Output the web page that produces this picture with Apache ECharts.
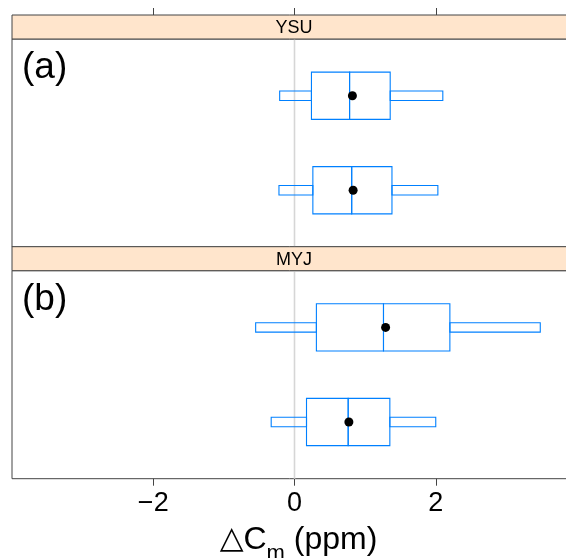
<!DOCTYPE html>
<html>
<head>
<meta charset="utf-8">
<script src="https://cdn.jsdelivr.net/npm/echarts@6/dist/echarts.min.js"></script>
<style>html,body{margin:0;padding:0;background:#fff;}#c{width:566px;height:558px;}</style>
</head>
<body>
<div id="c"></div>
<script>
// ---- data ----
var panels = ["YSU", "MYJ"];
var panelTags = ["(a)", "(b)"];
var rows = [1, 2];
// [lower whisker, Q1, median, Q3, upper whisker]
var ysuStats = [[-0.21, 0.24, 0.78, 1.355, 2.10], [-0.22, 0.26, 0.81, 1.38, 2.03]];
var ysuMeans = [0.82, 0.83];
var myjStats = [[-0.55, 0.31, 1.26, 2.20, 3.48], [-0.33, 0.17, 0.76, 1.35, 2.00]];
var myjMeans = [1.29, 0.77];
var xTicks = [-2, 0, 2];

var statsByPanel = [ysuStats, myjStats];
var meansByPanel = [ysuMeans, myjMeans];

var BLUE = '#0080ff';
var FONT = 'Liberation Sans, Arial, Helvetica, sans-serif';

function renderBox(params, api) {
  var y = api.value(0);
  var lo = api.value(1), q1 = api.value(2), med = api.value(3), q3 = api.value(4), hi = api.value(5);
  var hBox = api.size([0, 0.5])[1];
  var hW = api.size([0, 0.1])[1];
  var pLo = api.coord([lo, y]), pQ1 = api.coord([q1, y]), pMed = api.coord([med, y]);
  var pQ3 = api.coord([q3, y]), pHi = api.coord([hi, y]);
  var cy = pQ1[1];
  var st = {fill: 'none', stroke: BLUE, lineWidth: 1.1};
  return {
    type: 'group',
    children: [
      {type: 'rect', shape: {x: pLo[0], y: cy - hW / 2, width: pQ1[0] - pLo[0], height: hW}, style: st},
      {type: 'rect', shape: {x: pQ3[0], y: cy - hW / 2, width: pHi[0] - pQ3[0], height: hW}, style: st},
      {type: 'rect', shape: {x: pQ1[0], y: cy - hBox / 2, width: pMed[0] - pQ1[0], height: hBox}, style: st},
      {type: 'rect', shape: {x: pMed[0], y: cy - hBox / 2, width: pQ3[0] - pMed[0], height: hBox}, style: st}
    ]
  };
}

var gridTops = [39, 270.7];
var gridH = 208;
var gridLeft = 12, gridW = 565;

var grids = [], xAxes = [], yAxes = [], series = [], graphics = [];
panels.forEach(function (name, i) {
  grids.push({left: gridLeft, top: gridTops[i], width: gridW, height: gridH,
    outerBoundsMode: 'none', containLabel: false,
    show: true, borderColor: '#444', borderWidth: 1, backgroundColor: 'transparent'});
  var isBottom = (i === panels.length - 1);
  xAxes.push({
    gridIndex: i, type: 'value', min: -4, max: 4, interval: 2,
    position: isBottom ? 'bottom' : 'top',
    offset: isBottom ? 0 : 24,
    axisLine: {show: false},
    splitLine: {show: false},
    axisTick: {show: true, inside: false, length: 7, customValues: xTicks, lineStyle: {color: '#444', width: 1}},
    axisLabel: {show: isBottom, customValues: xTicks, fontSize: 27, color: '#000', fontFamily: FONT, margin: 11,
      formatter: function (v) { return v < 0 ? '\u2212' + Math.abs(v) : String(v); }},
    name: isBottom ? '{d|\u25B3}C{s|m} (ppm)' : '',
    nameLocation: 'middle', nameGap: 45,
    nameTextStyle: {fontSize: 32, color: '#000', fontFamily: FONT, padding: [0, 0, 0, 8],
      rich: {d: {fontSize: 31, fontFamily: 'DejaVu Sans', color: '#000'},
             s: {fontSize: 22, color: '#000', fontFamily: FONT, verticalAlign: 'bottom', padding: [0, 0, -9, 0]}}}
  });
  yAxes.push({gridIndex: i, type: 'value', min: 0.4, max: 2.6, inverse: true,
    axisLine: {show: false}, axisTick: {show: false}, axisLabel: {show: false}, splitLine: {show: false}});

  // zero reference line
  series.push({type: 'line', xAxisIndex: i, yAxisIndex: i, data: [[0, 0.4], [0, 2.6]],
    symbol: 'none', silent: true, lineStyle: {color: '#d6d6d6', width: 1.6}, z: 1});

  var st = statsByPanel[i];
  series.push({type: 'custom', xAxisIndex: i, yAxisIndex: i, renderItem: renderBox, z: 2,
    itemStyle: {color: BLUE},
    data: rows.map(function (r, k) { return [r].concat(st[k]); })});
  series.push({type: 'scatter', xAxisIndex: i, yAxisIndex: i, symbol: 'circle', symbolSize: 9,
    itemStyle: {color: '#000', opacity: 1}, z: 3,
    data: rows.map(function (r, k) { return [meansByPanel[i][k], r]; })});

  // strip
  graphics.push({type: 'rect', shape: {x: gridLeft, y: gridTops[i] - 24, width: gridW, height: 24},
    style: {fill: '#ffe5cc', stroke: '#444', lineWidth: 1}, z: 10});
  graphics.push({type: 'text', x: 294, y: gridTops[i] - 11, z: 11,
    style: {text: name, fontSize: 18, fill: '#000', fontFamily: FONT, align: 'center', verticalAlign: 'middle'}});
  graphics.push({type: 'text', x: 22, y: gridTops[i] + 29, z: 11,
    style: {text: panelTags[i], fontSize: 37, fill: '#000', fontFamily: FONT, align: 'left', verticalAlign: 'middle'}});
});

var chart = echarts.init(document.getElementById('c'), null, {renderer: 'canvas'});
chart.setOption({
  backgroundColor: '#fff',
  animation: false,
  grid: grids,
  xAxis: xAxes,
  yAxis: yAxes,
  series: series,
  graphic: graphics
});
</script>
</body>
</html>
